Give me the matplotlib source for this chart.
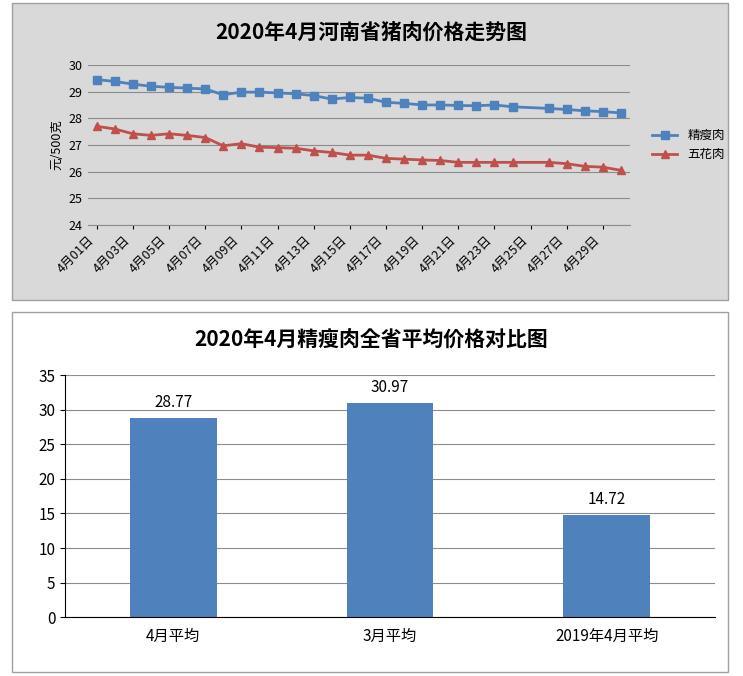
import numpy as np
import matplotlib.pyplot as plt
from matplotlib.patches import Rectangle

plt.rcParams['font.family'] = 'sans-serif'
plt.rcParams['font.sans-serif'] = ['Noto Sans CJK SC', 'Noto Sans CJK JP', 'DejaVu Sans']

days = ['4月%02d日' % d for d in range(1, 31)]
lean = [29.45, 29.38, 29.28, 29.2, 29.16, 29.13, 29.1, 28.88, 28.98, 28.98,
        28.95, 28.92, 28.85, 28.72, 28.78, 28.75, 28.6, 28.56, 28.5, 28.5,
        28.48, 28.47, 28.5, 28.43, np.nan, 28.37, 28.33, 28.28, 28.25, 28.2]
belly = [27.7, 27.6, 27.42, 27.36, 27.42, 27.36, 27.28, 26.97, 27.05, 26.92,
         26.9, 26.88, 26.78, 26.72, 26.62, 26.62, 26.5, 26.47, 26.44, 26.42,
         26.35, 26.35, 26.35, 26.35, np.nan, 26.35, 26.3, 26.2, 26.17, 26.05]
bar_labels = ['4月平均', '3月平均', '2019年4月平均']
bar_values = [28.77, 30.97, 14.72]

fig = plt.figure(figsize=(7.43, 6.76), dpi=100)
fig.add_artist(Rectangle((12/743, 1-300/676), 716/743, 297/676, transform=fig.transFigure,
                         facecolor='#d9d9d9', edgecolor='#a0a0a0', lw=1, zorder=-10))
fig.add_artist(Rectangle((12/743, 1-672/676), 716/743, 360/676, transform=fig.transFigure,
                         facecolor='white', edgecolor='#a0a0a0', lw=1, zorder=-10))

# top: line chart
ax = fig.add_axes([0.118, 0.667, 0.73, 0.237])
ax.set_facecolor('none')
x = np.arange(len(days))
for vals, color, mk, name in [(lean, '#4f81bd', 's', '精瘦肉'), (belly, '#c0504d', '^', '五花肉')]:
    v = np.array(vals)
    ok = ~np.isnan(v)
    ax.plot(x[ok], v[ok], color=color, marker=mk, markersize=6, lw=2, label=name)
ax.set_ylim(24, 30)
ax.set_xlim(-0.5, 29.5)
ax.set_xticks(x[::2])
ax.set_xticklabels(days[::2], rotation=45, ha='right', fontsize=9)
ax.tick_params(axis='y', labelsize=9, length=0)
ax.tick_params(axis='x', length=3)
ax.grid(axis='y', color='#8c8c8c', lw=0.8)
for s in ['top', 'right', 'left']:
    ax.spines[s].set_visible(False)
ax.spines['bottom'].set_color('#8c8c8c')
ax.set_ylabel('元/500克', fontsize=9)
ax.legend(loc='center left', bbox_to_anchor=(1.02, 0.5), frameon=False, fontsize=9)
fig.text(0.5, 1-32/676, '2020年4月河南省猪肉价格走势图', ha='center', va='center',
         fontsize=15, fontweight='bold')

# bottom: bar chart
bx = fig.add_axes([0.0875, 0.087, 0.875, 0.358])
bx.set_facecolor('none')
xb = np.arange(len(bar_labels))
bars = bx.bar(xb, bar_values, width=0.4, color='#4f81bd')
for b, v in zip(bars, bar_values):
    bx.text(b.get_x() + b.get_width()/2, v + 1, '%.2f' % v, ha='center', va='bottom', fontsize=11)
bx.set_xlim(-0.5, 2.5)
bx.set_ylim(0, 35)
bx.set_yticks(range(0, 36, 5))
bx.set_xticks(xb)
bx.set_xticklabels(bar_labels, fontsize=11)
bx.tick_params(axis='y', labelsize=11)
bx.tick_params(axis='x', length=0, pad=8)
bx.grid(axis='y', color='#8c8c8c', lw=0.8)
bx.set_axisbelow(True)
for s in ['top', 'right']:
    bx.spines[s].set_visible(False)
fig.text(0.5, 1-340/676, '2020年4月精瘦肉全省平均价格对比图', ha='center', va='center',
         fontsize=15, fontweight='bold')

fig.savefig('out.png')
